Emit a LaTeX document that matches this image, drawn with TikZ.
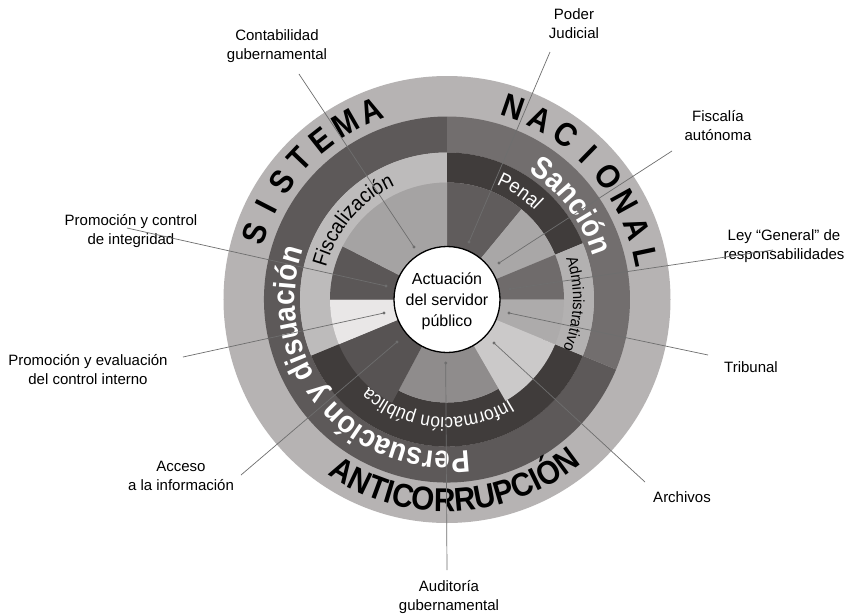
\documentclass[tikz,border=0pt]{standalone}
\usepackage{fontspec}
\setmainfont{Liberation Sans}
\newfontface\bigbold[FakeStretch=0.9]{Liberation Sans Bold}
\newfontface\condreg[FakeStretch=0.92]{Liberation Sans}
\usetikzlibrary{decorations.text}
\definecolor{cOuter}{HTML}{B6B3B3}
\definecolor{cPers}{HTML}{5D5959}
\definecolor{cSanc}{HTML}{726E6E}
\definecolor{cFisc}{HTML}{BDBBBB}
\definecolor{cPenal}{HTML}{403C3B}
\definecolor{cAdmin}{HTML}{B3B1B1}
\definecolor{cInfo}{HTML}{403C3B}
\definecolor{wPJ}{HTML}{605C5C}
\definecolor{wFA}{HTML}{A9A7A7}
\definecolor{wLG}{HTML}{6F6B6B}
\definecolor{wTR}{HTML}{ADABAB}
\definecolor{wAR}{HTML}{CBC9C9}
\definecolor{wAU}{HTML}{8F8C8C}
\definecolor{wAC}{HTML}{575353}
\definecolor{wEV}{HTML}{E9E7E7}
\definecolor{wIN}{HTML}{5B5757}
\definecolor{wCO}{HTML}{A5A3A3}
\definecolor{leadc}{HTML}{6E6E6E}
\newcommand{\ringseg}[5]{\fill[#1] (#2:#4pt) arc[start angle=#2, end angle=#3, radius=#4pt] -- (#3:#5pt) arc[start angle=#3, end angle=#2, radius=#5pt] -- cycle;}
\tikzset{
  bigl/.style={font=\fontsize{33}{33}\bigbold, inner sep=0pt, text=black},
  lbl/.style={align=center, font=\fontsize{15}{19}\selectfont, inner sep=0pt, text=black},
  leader/.style={draw=leadc, line width=0.7pt},
  dotmark/.style={fill=leadc}
}
\begin{document}
\begin{tikzpicture}[x=1pt,y=1pt]
\useasboundingbox[fill=white] (-447,-314.5) rectangle (404,299.5);
% outer ring
\fill[cOuter] (0,0) circle (223.5pt);
% dark ring
\ringseg{cPers}{90}{337.5}{147}{183}
\ringseg{cSanc}{-22.5}{90}{147}{183}
% bands
\ringseg{cFisc}{90}{202.5}{117}{147}
\ringseg{cInfo}{202.5}{337.5}{103}{147}
\ringseg{cPenal}{22.5}{90}{117}{147}
\ringseg{cAdmin}{-22.5}{22.5}{117}{147}
% wedges
\ringseg{wPJ}{50.5}{90}{50}{117}
\ringseg{wFA}{22.5}{50.5}{50}{117}
\ringseg{wLG}{0}{22.5}{50}{117}
\ringseg{wTR}{-22.5}{0}{50}{117}
\ringseg{wAR}{-60}{-22.5}{50}{117}
\ringseg{wAU}{-118}{-60}{50}{103}
\ringseg{wAC}{-157.5}{-118}{50}{117}
\ringseg{wEV}{180}{202.5}{50}{117}
\ringseg{wIN}{153}{180}{50}{117}
\ringseg{wCO}{90}{153}{50}{117}
% centre
\node[circle, minimum size=106pt, inner sep=0pt, fill=white, draw=black, line width=1.3pt] (actuacion) at (0,0) {};
\node[align=center, font=\fontsize{16}{21}\selectfont, inner sep=0pt] (actuaciontxt) at (0,-2) {Actuación\\del servidor\\público};
% outer ring words
\foreach \ch [count=\i from 0] in {S,I,S,T,E,M,A}{
  \pgfmathsetmacro{\ang}{161-\i*8.2}
  \node[bigl, rotate=\ang-90] (sis\i) at (\ang:203pt) {\ch};
}
\foreach \ch [count=\i from 0] in {N,A,C,I,O,N,A,L}{
  \pgfmathsetmacro{\ang}{71-\i*8.43}
  \node[bigl, rotate=\ang-90] (nac\i) at (\ang:203pt) {\ch};
}
\path[decorate, decoration={text along path, text align=center,
  text={|\fontsize{33}{33}\bigbold|ANTICORRUPCIÓN}}]
  (-167.5:212pt) arc[start angle=-167.5, end angle=-7.5, radius=212pt];
% dark ring words
\path[decorate, decoration={text along path, text align=center,
  text={|\fontsize{31}{31}\bigbold\color{white}|Persuación y disuación}}]
  (339.5:152pt) arc[start angle=339.5, end angle=99.5, radius=152pt];
\path[decorate, decoration={text along path, text align=center,
  text={|\fontsize{31}{31}\bigbold\color{white}|Sanción}}]
  (97:152pt) arc[start angle=97, end angle=-23, radius=152pt];
% band words
\path[decorate, decoration={text along path, text align=center,
  text={|\fontsize{21}{21}\condreg|Fiscalización}}]
  (200:125pt) arc[start angle=200, end angle=80, radius=125pt];
\path[decorate, decoration={text along path, text align=center,
  text={|\fontsize{20}{20}\condreg\color{white}|Penal}}]
  (116:125pt) arc[start angle=116, end angle=-4, radius=125pt];
\path[decorate, decoration={text along path, text align=center,
  text={|\fontsize{16}{16}\condreg|Administrativo}}]
  (58:126pt) arc[start angle=58, end angle=-62, radius=126pt];
\path[decorate, decoration={text along path, text align=center,
  text={|\fontsize{19}{19}\condreg\color{white}|Información pública}}]
  (-25:118pt) arc[start angle=-25, end angle=-165, radius=118pt];
% labels
\node[lbl] (lconta) at (-170,253) {Contabilidad\\gubernamental};
\node[lbl] (lpoder) at (127,275.5) {Poder\\Judicial};
\node[lbl] (lfisc) at (271,174) {Fiscalía\\autónoma};
\node[lbl] (lley) at (337,53.5) {Ley “General” de\\responsabilidades};
\node[lbl] (ltrib) at (304,-67.5) {Tribunal};
\node[lbl] (larch) at (235,-197.5) {Archivos};
\node[lbl] (laud) at (2,-297.5) {Auditoría\\gubernamental};
\node[lbl] (lacc) at (-266,-176.5) {Acceso\\a la información};
\node[lbl] (leval) at (-359,-70.5) {Promoción y evaluación\\del control interno};
\node[lbl] (linteg) at (-316,68) {Promoción y control\\de integridad};
% leader coordinates
\coordinate (s1) at (-148,225.5); \coordinate (e1) at (-33,52.5);
\coordinate (s2) at (103,247.5);  \coordinate (e2) at (22,57.5);
\coordinate (s3) at (225,148.5);  \coordinate (e3) at (52,36.5);
\coordinate (s4) at (326,49.5);   \coordinate (e4) at (63,10.5);
\coordinate (s5) at (261,-55.5);  \coordinate (e5) at (62,-13.5);
\coordinate (s6) at (198,-182.5); \coordinate (e6) at (47,-43.5);
\coordinate (s7) at (0,-270.5);   \coordinate (e7) at (-1.3,-63.5);
\coordinate (s8) at (-206,-175.5);\coordinate (e8) at (-50,-42.5);
\coordinate (s9) at (-264,-57.5); \coordinate (e9) at (-63,-13.5);
\coordinate (s10) at (-320,71.5); \coordinate (e10) at (-61,13.5);
\foreach \k in {1,...,10}{
  \draw[leader] (s\k) -- (e\k);
  \fill[dotmark] (e\k) circle (1.6pt);
}
\end{tikzpicture}
\end{document}
